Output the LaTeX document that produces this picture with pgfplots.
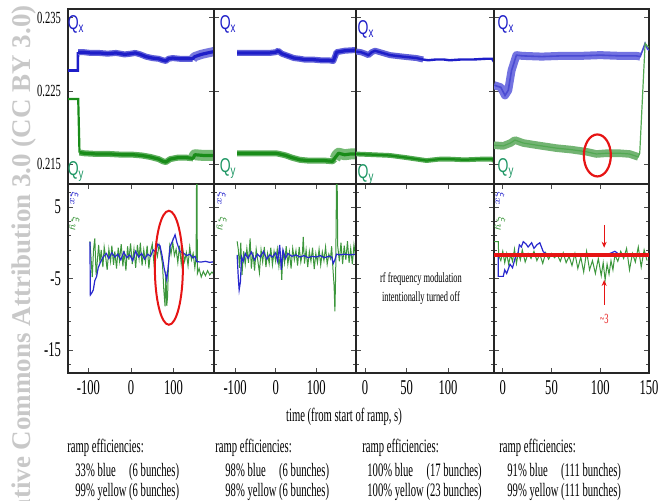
\documentclass[border=0pt]{standalone}
\usepackage{pgfplots}
\pgfplotsset{compat=1.18}
\usepackage{fontspec}
\setmainfont{Liberation Serif}
\setsansfont{Liberation Sans}
\usepackage{graphicx}
\usetikzlibrary{arrows.meta}
\definecolor{qblue}{RGB}{30,30,200}
\definecolor{qgreen}{RGB}{25,140,25}
\definecolor{lblue}{RGB}{115,115,225}
\definecolor{lgreen}{RGB}{115,180,115}
\definecolor{xblue}{RGB}{40,40,205}
\definecolor{xgreen}{RGB}{60,150,60}
\definecolor{labgreen}{RGB}{30,150,100}
\definecolor{annred}{RGB}{230,20,20}
\definecolor{wm}{RGB}{200,200,200}
\newcommand{\cx}[1]{\scalebox{0.56}[1]{#1}}
\newcommand{\cq}[1]{\scalebox{0.7}[1]{#1}}
\newcommand{\ct}[1]{\scalebox{0.6}[1]{#1}}
\newcommand{\cy}[1]{\scalebox{0.62}[1]{#1}}
\newcommand{\txt}{\fontsize{9.5}{10}\selectfont}
\tikzset{
  qx/.style={font=\sffamily\fontsize{10}{10}\selectfont, text=qblue, inner sep=0},
  qy/.style={font=\sffamily\fontsize{10}{10}\selectfont, text=labgreen, inner sep=0},
  band/.style={line width=3pt, line join=round},
  core/.style={line width=1.6pt, line join=round},
  xil/.style={rotate=-90, font=\fontsize{5.5}{5.5}\selectfont, inner sep=0},
}
\pgfplotsset{
  panel/.style={scale only axis, no markers,
    axis line style={draw=black!85, line width=0.6pt},
    tick style={draw=black!70, line width=0.35pt},
    tick align=inside, major tick length=2.5pt, minor tick length=1.5pt,
    tick label style={font=\fontsize{10.5}{10.5}\selectfont},
    anchor=south west},
  toprow/.style={panel, height=87.5pt, ymin=0.2123, ymax=0.2362,
    ytick={0.215,0.225,0.235}, yticklabels={}, xtick=\empty},
  botrow/.style={panel, height=94.5pt, ymin=-18.2, ymax=8.2,
    ytick={-15,-5,5}, minor ytick={-17,-13,-11,-9,-7,-3,-1,1,3,7}, yticklabels={}},
}
\begin{document}
\begin{tikzpicture}
\useasboundingbox (0,0) rectangle (329pt,250pt);
\clip (0,0) rectangle (329pt,250pt);
% watermark
\node[rotate=90, anchor=base east, text=wm, font=\bfseries\fontsize{13.5}{13.5}\selectfont, inner sep=0]
  at (15.5pt,247.5pt) {Content from this work may be used under the terms of the Creative Commons Attribution 3.0 (CC BY 3.0)};

% ---------------- top row ----------------
\begin{axis}[toprow, at={(34pt,158pt)}, width=73pt, xmin=-148, xmax=195,
  yticklabels={{\cy{0.215}},{\cy{0.225}},{\cy{0.235}}},
  yticklabel style={font=\fontsize{8.5}{8.5}\selectfont}]
\addplot[qblue, line width=1.3pt] coordinates {(-148,0.2278)(-125,0.2278)(-124.5,0.2303)};
\addplot[qblue!70, band] coordinates {(-124.5,0.2303)(-110,0.2303)(-95,0.2302)(-75,0.2302)(-55,0.2301)(-35,0.2302)(-15,0.2300)(0,0.2301)(10,0.2302)(22,0.2300)(35,0.2297)(50,0.2295)(65,0.2294)(75,0.2292)(82,0.2291)(88,0.2294)(98,0.2295)(115,0.2294)(130,0.2294)(145,0.2294)};
\addplot[qblue!60, line width=4.6pt, line join=round] coordinates {(145,0.2294)(150,0.2297)(165,0.2300)(180,0.2302)(196,0.2304)};
\addplot[qblue, core] coordinates {(-124.5,0.2303)(-110,0.2303)(-95,0.2302)(-75,0.2302)(-55,0.2301)(-35,0.2302)(-15,0.2300)(0,0.2301)(10,0.2302)(22,0.2300)(35,0.2297)(50,0.2295)(65,0.2294)(75,0.2292)(82,0.2291)(88,0.2294)(98,0.2295)(115,0.2294)(130,0.2294)(145,0.2294)(150,0.2297)(165,0.2300)(180,0.2302)(196,0.2304)};
\addplot[qgreen, line width=1.1pt] coordinates {(-148,0.2239)(-124,0.2239)(-121,0.2166)};
\addplot[qgreen!70, band] coordinates {(-121,0.2166)(-110,0.2165)(-80,0.2164)(-50,0.2164)(-20,0.2163)(5,0.2163)(25,0.2162)(45,0.2160)(65,0.2157)(75,0.2154)(82,0.2153)(92,0.2157)(110,0.2159)(130,0.2159)(146,0.2158)};
\addplot[qgreen!60, line width=5.5pt, line join=round] coordinates {(146,0.2158)(150,0.2163)(170,0.2162)(196,0.2162)};
\addplot[qgreen, core] coordinates {(-121,0.2166)(-110,0.2165)(-80,0.2164)(-50,0.2164)(-20,0.2163)(5,0.2163)(25,0.2162)(45,0.2160)(65,0.2157)(75,0.2154)(82,0.2153)(92,0.2157)(110,0.2159)(130,0.2159)(146,0.2158)(150,0.2163)(170,0.2162)(196,0.2162)};
\node[qx] at (rel axis cs:0.055,0.914) {\cq{Q\textsubscript{x}}};
\node[qy] at (rel axis cs:0.055,0.069) {\cq{Q\textsubscript{y}}};
\end{axis}

\begin{axis}[toprow, at={(107pt,158pt)}, width=71pt, xmin=-152, xmax=198]
\addplot[qblue!70, band] coordinates {(-95,0.2302)(-70,0.2302)(-40,0.2302)(-15,0.2302)(0,0.2303)(6,0.2305)(15,0.2301)(30,0.2298)(45,0.2295)(60,0.2294)(70,0.2293)(90,0.2293)(110,0.2292)(130,0.2292)(142,0.2291)(147,0.2298)(150,0.2303)(170,0.2305)(198,0.2306)};
\addplot[qblue, core] coordinates {(-95,0.2302)(-70,0.2302)(-40,0.2302)(-15,0.2302)(0,0.2303)(6,0.2305)(15,0.2301)(30,0.2298)(45,0.2295)(60,0.2294)(70,0.2293)(90,0.2293)(110,0.2292)(130,0.2292)(142,0.2291)(147,0.2298)(150,0.2303)(170,0.2305)(198,0.2306)};
\addplot[qgreen!70, band] coordinates {(-95,0.2165)(-60,0.2165)(-30,0.2165)(0,0.2165)(10,0.2164)(25,0.2162)(40,0.2159)(60,0.2156)(80,0.2155)(100,0.2155)(120,0.2155)(140,0.2154)(146,0.2157)};
\addplot[qgreen!60, line width=5.5pt, line join=round] coordinates {(146,0.2157)(150,0.2162)(155,0.2165)(170,0.2163)(185,0.2164)(198,0.2164)};
\addplot[qgreen, core] coordinates {(-95,0.2165)(-60,0.2165)(-30,0.2165)(0,0.2165)(10,0.2164)(25,0.2162)(40,0.2159)(60,0.2156)(80,0.2155)(100,0.2155)(120,0.2155)(140,0.2154)(148,0.2160)(155,0.2165)(170,0.2163)(185,0.2164)(198,0.2164)};
\node[qx] at (rel axis cs:0.099,0.914) {\cq{Q\textsubscript{x}}};
\node[qy] at (rel axis cs:0.099,0.091) {\cq{Q\textsubscript{y}}};
\end{axis}

\begin{axis}[toprow, at={(178pt,158pt)}, width=69pt, xmin=-11, xmax=155.4]
\addplot[qblue!70, band] coordinates {(-11,0.2304)(-5,0.2303)(0,0.2301)(4,0.2299)(8,0.2303)(12,0.2305)(18,0.2303)(30,0.2299)(45,0.2297)(62,0.2295)(70,0.2293)};
\addplot[qblue, line width=1.2pt] coordinates {(-11,0.2304)(-5,0.2303)(0,0.2301)(4,0.2299)(8,0.2303)(12,0.2305)(18,0.2303)(30,0.2299)(45,0.2297)(62,0.2295)(70,0.2293)(76,0.2292)(85,0.2293)(95,0.2293)(102,0.2292)(115,0.2293)(130,0.2293)(145,0.2294)(153,0.2294)(155.4,0.2290)};
\addplot[qgreen!75, line width=2.4pt, line join=round] coordinates {(-11,0.2164)(10,0.2163)(30,0.2162)(50,0.2159)(74,0.2155)(90,0.2157)(102,0.2157)(120,0.2156)(140,0.2157)(153,0.2157)(155.4,0.2155)};
\addplot[qgreen, line width=1.1pt] coordinates {(-11,0.2164)(10,0.2163)(30,0.2162)(50,0.2159)(74,0.2155)(90,0.2157)(102,0.2157)(120,0.2156)(140,0.2157)(153,0.2157)(155.4,0.2155)};
\node[qx] at (rel axis cs:0.072,0.886) {\cq{Q\textsubscript{x}}};
\node[qy] at (rel axis cs:0.072,0.057) {\cq{Q\textsubscript{y}}};
\end{axis}

\begin{axis}[toprow, at={(247pt,158pt)}, width=77.5pt, xmin=-9, xmax=150]
\addplot[lblue, line width=4pt, line join=round] coordinates {(-9,0.2258)(-2,0.2255)(2.3,0.2244)(5.6,0.2251)(9,0.2278)(14,0.2299)(20,0.2298)(40,0.2297)(60,0.2298)(80,0.2298)(100,0.2299)(120,0.2298)(137,0.2298)(141,0.2297)};
\addplot[qblue!80, line width=0.8pt] coordinates {(-9,0.2258)(-2,0.2255)(2.3,0.2244)(5.6,0.2251)(9,0.2278)(14,0.2299)(20,0.2298)(40,0.2297)(60,0.2298)(80,0.2298)(100,0.2299)(120,0.2298)(137,0.2298)(141,0.2297)(146,0.2315)(148.6,0.2307)(150,0.2306)};
\addplot[lgreen, line width=3.8pt, line join=round] coordinates {(-9,0.2176)(0.5,0.2175)(8,0.2179)(12.5,0.2183)(21,0.2179)(35,0.2176)(55,0.2172)(70,0.2170)(86,0.2167)(96,0.2164)(106,0.2165)(120,0.2165)(130,0.2164)(139,0.2160)};
\addplot[qgreen!75, line width=0.6pt] coordinates {(-9,0.2176)(0.5,0.2175)(8,0.2179)(12.5,0.2183)(21,0.2179)(35,0.2176)(55,0.2172)(70,0.2170)(86,0.2167)(96,0.2164)(106,0.2165)(120,0.2165)(130,0.2164)(139,0.2160)(140.5,0.2165)(146,0.2315)(148.6,0.2311)(150,0.2310)};
\draw[annred, line width=1.1pt] (axis cs:97,0.2162) ellipse [x radius=6.75pt, y radius=10.5pt];
\node[qx] at (rel axis cs:0.077,0.914) {\cq{Q\textsubscript{x}}};
\node[qy] at (rel axis cs:0.077,0.091) {\cq{Q\textsubscript{y}}};
\end{axis}

% ---------------- bottom row ----------------
\begin{axis}[botrow, at={(34pt,63.5pt)}, width=73pt, xmin=-148, xmax=195,
  xtick={-100,0,100}, xticklabels={{\ct{-100}},{\ct{0}},{\ct{100}}},
  yticklabels={{\ct{-15}},{\ct{-5}},{\ct{5}}}]
\addplot[xgreen, line width=0.5pt] coordinates {(-96.5,0.2)(-94,-2.0)(-91,-4.8)(-88,-1.0)(-85,0.6)(-82,-4.5)(-79,-2.5)(-76,-0.3)(-73,-2.8)(-70,-1.0)(-66,-3.4)(-63,-0.6)(-59,-2.2)(-56,-3.8)(-52,-0.9)(-48,-2.6)(-45,-0.4)(-41,-3.1)(-38,-1.2)(-34,-3.6)(-30,-0.7)(-27,-2.5)(-23,-0.2)(-19,-3.3)(-16,-1.1)(-12,-3.9)(-8,-0.5)(-5,-2.4)(-1,-0.1)(3,-3.0)(7,-0.9)(11,-3.5)(15,-0.3)(19,-2.2)(22,0.0)(26,-3.2)(30,-1.0)(34,-2.7)(38,-0.4)(42,-3.6)(46,-1.2)(50,-0.2)(54,-2.9)(58,-0.8)(62,-1.9)(66,-0.3)(70,-1.5)(74,-3.0)(77,-6.5)(80,-8.9)(82,-4.0)(84,-8.8)(86,-7.5)(88,-3.0)(91,-0.5)(94,-1.6)(98,0.1)(102,-1.8)(106,-0.9)(110,-2.8)(114,-0.4)(118,-3.0)(122,-1.0)(126,-2.6)(130,-1.4)(134,-3.2)(138,-0.6)(142,-2.4)(146,-1.5)(150,-3.5)(153,-2.0)(154,9)(155,9)(156,-4.3)(160,-3.6)(165,-4.8)(170,-4.0)(175,-4.6)(180,-3.9)(185,-4.5)(190,-4.1)(195,-4.4)};
\addplot[xblue, line width=0.6pt] coordinates {(-96.5,0.1)(-95.5,-7.3)(-92,-7.0)(-88.6,-6.6)(-85,-5.3)(-80.7,-4.7)(-77,-3.5)(-73,-2.9)(-69,-2.4)(-65,-1.95)(-58,-1.5)(-52,-2.2)(-45,-1.4)(-38,-2.0)(-31,-1.6)(-24,-2.4)(-17,-1.3)(-10,-2.1)(-3,-1.7)(4,-2.5)(11,-1.2)(18,-2.0)(25,-1.5)(32,-2.3)(39,-1.6)(46,-1.9)(52,-1.0)(58,-1.3)(63,-0.2)(68,-0.4)(73,-1.8)(78,-3.6)(84,-5.2)(88,-3.0)(92,-0.5)(98,0.3)(103.5,1.1)(108,0.0)(115,-1.25)(122,-1.4)(131,-1.8)(138,-1.6)(145,-2.1)(150.6,-1.9)(154.6,-2.65)(165,-2.7)(175,-2.6)(185,-2.75)(195,-2.65)};
\draw[annred, line width=1pt] (axis cs:89,-3.5) ellipse [x radius=7pt, y radius=28.5pt];
\node[xil, text=xblue] at (rel axis cs:0.045,0.921) {$\xi_x$};
\node[xil, text=xgreen] at (rel axis cs:0.045,0.788) {$\xi_y$};
\end{axis}

\begin{axis}[botrow, at={(107pt,63.5pt)}, width=71pt, xmin=-152, xmax=198,
  xtick={-100,0,100}, xticklabels={{\ct{-100}},{\ct{0}},{\ct{100}}}]
\addplot[xgreen, line width=0.5pt] coordinates {(-95,0.2)(-92,-1.0)(-89,-3.5)(-86,0.0)(-83,-4.5)(-79,-1.2)(-75,-3.0)(-71,-0.8)(-67,-2.8)(-63,0.6)(-60,-3.6)(-56,-1.3)(-52,-3.9)(-48,-0.9)(-44,-2.5)(-40,-4.2)(-36,-1.0)(-32,-2.7)(-28,-0.6)(-24,-3.4)(-20,-1.5)(-16,-2.9)(-12,-0.7)(-8,-3.1)(-4,-1.2)(0,-2.6)(4,-0.9)(8,-3.3)(12,-1.4)(15,-5.2)(18,-1.0)(22,-2.8)(26,-0.5)(30,-3.0)(34,-1.3)(38,-3.6)(42,-0.8)(46,-2.4)(50,-1.1)(54,-3.2)(58,-0.6)(62,-2.7)(66,-1.4)(68,0.8)(71,-2.9)(75,-1.0)(79,-3.4)(83,-1.2)(87,-2.6)(91,-0.7)(95,-3.7)(99,-1.5)(103,-2.8)(107,-0.9)(111,-3.1)(115,-1.3)(119,-2.5)(123,-0.6)(127,-3.0)(131,-1.6)(135,-2.2)(138,-0.5)(141,-3.5)(144,-6.0)(146,-9.6)(148,-4.0)(150,9)(151.5,9)(153,-0.5)(157,-2.6)(161,0.0)(165,-3.0)(169,-0.4)(173,-2.4)(177,0.2)(181,-2.8)(185,-0.8)(189,-3.0)(193,-0.3)(197,-2.0)};
\addplot[xblue, line width=0.6pt] coordinates {(-95,-1.7)(-92,-5.0)(-90,-6.6)(-87,-5.5)(-84,-2.0)(-80,-2.6)(-75,-1.5)(-68,-2.2)(-60,-1.3)(-52,-2.4)(-45,-1.6)(-38,-2.0)(-30,-1.2)(-22,-2.3)(-15,-1.7)(-8,-2.0)(0,-1.4)(5,-2.6)(10,-0.3)(14,-3.8)(18,-1.0)(24,-2.2)(30,-1.5)(40,-1.9)(50,-1.7)(60,-2.0)(70,-1.8)(80,-2.1)(90,-1.9)(100,-2.0)(110,-1.8)(120,-2.1)(130,-1.9)(138,-2.0)(142,-2.9)(146,-2.4)(150,-1.6)(158,-1.7)(170,-1.6)(185,-1.7)(198,-1.6)};
\node[xil, text=xblue] at (rel axis cs:0.056,0.921) {$\xi_x$};
\node[xil, text=xgreen] at (rel axis cs:0.056,0.788) {$\xi_y$};
\end{axis}

\begin{axis}[botrow, at={(178pt,63.5pt)}, width=69pt, xmin=-11, xmax=155.4,
  xtick={0,50,100}, xticklabels={{\ct{0}},{\ct{50}},{\ct{100}}}]
\node[align=center, font=\fontsize{7}{9.5}\selectfont, inner sep=0] at (rel axis cs:0.471,0.447)
  {\scalebox{0.6}[1]{rf frequency modulation}\\ \scalebox{0.6}[1]{intentionally turned off}};
\end{axis}

\begin{axis}[botrow, at={(247pt,63.5pt)}, width=77.5pt, xmin=-9, xmax=150,
  xtick={0,50,100,150}, xticklabels={{\ct{0}},{\ct{50}},{\ct{100}},{\ct{150}}}]
\addplot[xgreen, line width=0.5pt] coordinates {(-9,0.15)(-4.6,0.15)(-4.2,-1.8)(-2,-2.5)(0,-1.2)(2,-2.8)(4,-1.5)(6,-3.0)(8,-1.7)(10,-2.6)(12,-0.9)(14,-2.9)(16,-1.4)(18,-2.4)(20,-1.0)(23,-2.7)(26,-1.5)(29,-2.2)(32,-1.2)(35,-2.5)(38,-1.6)(41,-2.9)(44,-1.4)(47,-2.3)(50,-1.5)(53,-2.1)(56,-1.7)(59,-2.6)(62,-1.4)(65,-2.8)(68,-1.9)(71,-3.2)(74,-1.5)(77,-3.6)(80,-2.0)(83,-4.1)(86,-1.2)(89,-3.8)(92,-2.5)(95,-4.3)(98,-2.2)(101,-4.6)(103,-2.8)(105,-5.2)(107,-3.0)(109,-4.4)(111,-2.5)(113,-3.8)(115,-1.7)(118,-2.6)(121,-1.2)(124,-2.2)(127,-0.8)(130,-3.8)(133,-1.5)(136,-2.7)(139,-0.6)(142,-3.4)(145,-1.0)(148,-2.5)};
\addplot[xblue, line width=0.6pt] coordinates {(-4.6,-1.5)(-4.6,-4.7)(0.5,-4.7)(2,-3.8)(4,-4.3)(7.4,-3.0)(10,-3.5)(13,-2.0)(15,-1.9)(17,-0.3)(19,-0.6)(21,0.15)(24,-0.2)(26,-0.6)(29.6,0.0)(32,-0.8)(35,-0.3)(38,0.0)(41.5,-1.25)(45,-1.6)(60,-1.8)(80,-1.6)(100,-1.8)(110,-1.5)(115,-1.2)(120,-1.7)(135,-1.6)(148,-1.7)};
\addplot[annred, line width=2pt] coordinates {(-9,-1.7)(150,-1.7)};
\draw[annred, line width=0.5pt, -{Stealth[length=3pt,width=2.5pt]}] (axis cs:104,2.5) -- (axis cs:104,-0.7);
\draw[annred, line width=0.5pt, -{Stealth[length=3pt,width=2.5pt]}] (axis cs:104,-8.7) -- (axis cs:104,-5.2);
\node[text=annred, font=\fontsize{7}{7}\selectfont, inner sep=0] at (axis cs:104,-10.6) {\scalebox{0.6}[1]{\textasciitilde3}};
\node[xil, text=xblue] at (rel axis cs:0.039,0.921) {$\xi_x$};
\node[xil, text=xgreen] at (rel axis cs:0.039,0.788) {$\xi_y$};
\end{axis}

% x label
\node[font=\txt, inner sep=0, anchor=base] at (172pt,39.2pt) {\cx{time (from start of ramp, s)}};
% efficiencies
\foreach \xa/\xb/\ea/\eb/\na/\nb in {33.5/37.5/33\%/99\%/6/6, 107.5/112.5/98\%/98\%/6/6, 181/183.5/100\%/100\%/17/23, 249.5/253.5/91\%/99\%/111/111}{
  \node[font=\txt, inner sep=0, anchor=base west] at (\xa pt,24pt) {\cx{ramp efficiencies:}};
  \node[font=\txt, inner sep=0, anchor=base west] (l3) at (\xb pt,1.9pt) {\cx{\eb{} yellow (\nb{} bunches)}};
  \node[font=\txt, inner sep=0, anchor=base west] at (\xb pt,11.8pt) {\cx{\ea{} blue}};
  \node[font=\txt, inner sep=0, anchor=base east] at (l3.east |- 0,11.8pt) {\cx{(\na{} bunches)}};
}
\end{tikzpicture}
\end{document}
